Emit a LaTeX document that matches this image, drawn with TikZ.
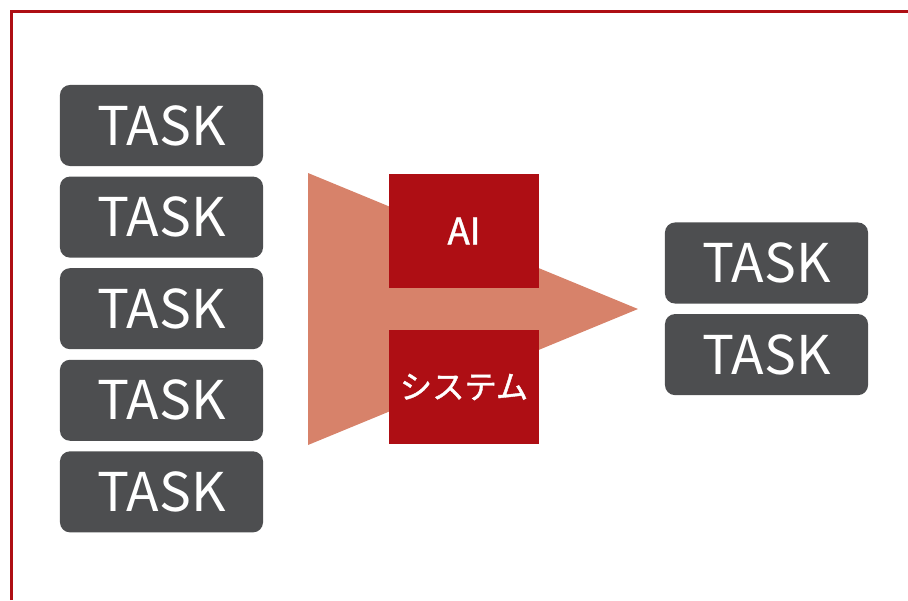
\documentclass[tikz,border=0pt]{standalone}
\usepackage{fontspec}
\setmainfont{Noto Sans CJK JP}
\newfontfamily\enginefont[FakeBold=1.2]{Noto Sans CJK JP}
\usetikzlibrary{positioning}
\definecolor{aired}{HTML}{AE0E14}
\definecolor{funnel}{HTML}{D7826A}
\definecolor{taskgray}{HTML}{4D4E50}
\tikzset{
  task/.style={rectangle,rounded corners=0.25cm,fill=taskgray,text=white,
    minimum width=5.075cm,minimum height=2.025cm,inner sep=0pt,
    font=\fontsize{38}{41}\selectfont},
  engine/.style={rectangle,fill=aired,text=white,
    minimum width=3.75cm,minimum height=2.85cm,inner sep=0pt,
    font=\enginefont\fontsize{23}{26}\selectfont}
}
\begin{document}
\begin{tikzpicture}[x=0.025cm,y=-0.025cm]
\useasboundingbox (0,0) rectangle (908,600);
\draw[aired,line width=2.1pt] (11.8,600) -- (11.8,11.8) -- (908,11.8);

% tasks coming in
\node[task] (in1) at (161.5,125.5) {TASK};
\node[task,below=0.25cm of in1] (in2) {TASK};
\node[task,below=0.25cm of in2] (in3) {TASK};
\node[task,below=0.25cm of in3] (in4) {TASK};
\node[task,below=0.25cm of in4] (in5) {TASK};

% funnel
\fill[funnel] (308,173) -- (638,309) -- (308,445) -- cycle;
\node[engine,font=\enginefont\fontsize{26}{30}\selectfont] (ai) at (464,231) {AI};
\node[engine] (sys) at (464,387) {システム};

% tasks left over
\node[task] (out1) at (766.5,263) {TASK};
\node[task,below=0.25cm of out1] (out2) {TASK};

\end{tikzpicture}
\end{document}
